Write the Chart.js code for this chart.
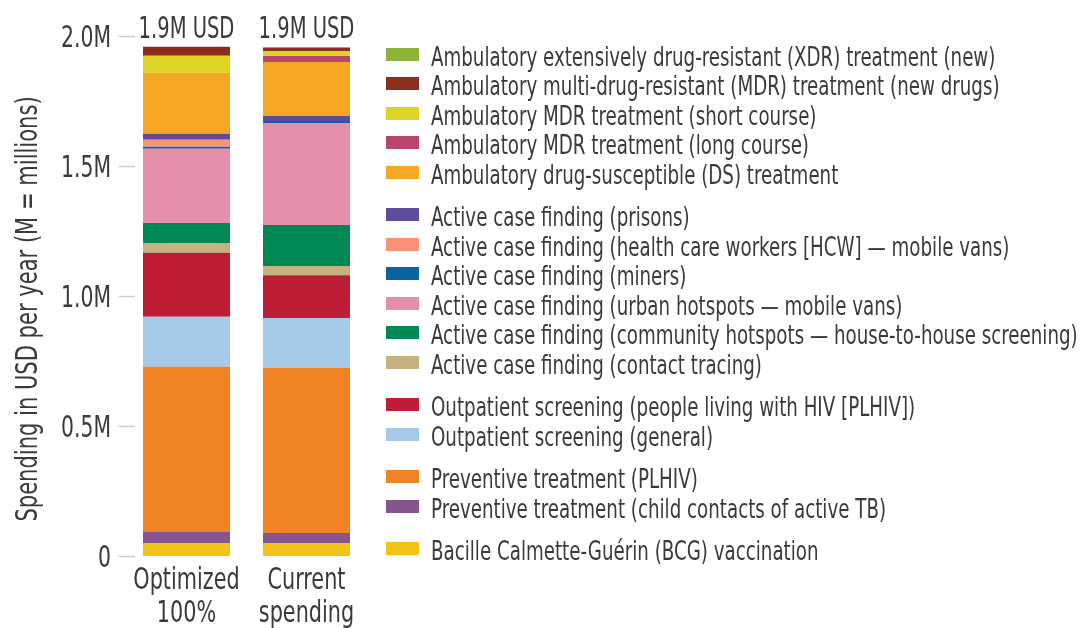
<!DOCTYPE html>
<html>
<head>
<meta charset="utf-8">
<script src="https://cdn.jsdelivr.net/npm/chart.js@4.4.1/dist/chart.umd.min.js"></script>
<style>
html,body{margin:0;padding:0;background:#fff;}
canvas{display:block;}
</style>
</head>
<body>
<canvas id="c" width="1083" height="628"></canvas>
<script>
// ---- data (values in millions of USD per year) ----
const categories = [["Optimized", "100%"], ["Current", "spending"]];
const totalLabels = ["1.9M USD", "1.9M USD"];
const yTicks = [0, 0.5, 1.0, 1.5, 2.0];
const yTickLabels = ["0", "0.5M", "1.0M", "1.5M", "2.0M"];
const yTitle = "Spending in USD per year (M = millions)";

// series listed bottom of stack -> top of stack
const seriesLabels = [
  "Bacille Calmette-Guérin (BCG) vaccination",
  "Preventive treatment (child contacts of active TB)",
  "Preventive treatment (PLHIV)",
  "Outpatient screening (general)",
  "Outpatient screening (people living with HIV [PLHIV])",
  "Active case finding (contact tracing)",
  "Active case finding (community hotspots — house-to-house screening)",
  "Active case finding (urban hotspots — mobile vans)",
  "Active case finding (miners)",
  "Active case finding (health care workers [HCW] — mobile vans)",
  "Active case finding (prisons)",
  "Ambulatory drug-susceptible (DS) treatment",
  "Ambulatory MDR treatment (long course)",
  "Ambulatory MDR treatment (short course)",
  "Ambulatory multi-drug-resistant (MDR) treatment (new drugs)",
  "Ambulatory extensively drug-resistant (XDR) treatment (new)"
];
const seriesColors = [
  "#f2c318", "#86558f", "#f08323", "#a5c9e9", "#be1e35", "#c4b27f",
  "#008855", "#e68fab", "#0a64a4", "#f8937a", "#5f4b9b", "#f5a623",
  "#b8456d", "#dcd523", "#8b2e1e", "#8cb43c"
];
const optimizedValues = [0.050, 0.042, 0.636, 0.192, 0.246, 0.038, 0.077, 0.285, 0.008, 0.027, 0.023, 0.235, 0.000, 0.065, 0.035, 0.000];
const currentValues   = [0.050, 0.038, 0.635, 0.192, 0.165, 0.035, 0.158, 0.392, 0.008, 0.000, 0.019, 0.208, 0.023, 0.019, 0.012, 0.004];

// legend group sizes (legend order = top of stack first)
const legendGroups = [5, 6, 2, 2, 1];

const FONT = '"DejaVu Sans Condensed", "Liberation Sans Narrow", sans-serif';
const TEXT = "#3a3a3a";

const datasets = seriesLabels.map((lab, i) => ({
  label: lab,
  data: [optimizedValues[i], currentValues[i]],
  backgroundColor: seriesColors[i],
  borderWidth: 0,
  barPercentage: 0.725,
  categoryPercentage: 1.0
}));

function txt(ctx, s, x, y, align, size, sx) {
  ctx.save();
  ctx.font = size + "px " + FONT;
  ctx.textAlign = align;
  ctx.textBaseline = "alphabetic";
  ctx.translate(x, y);
  ctx.scale(sx, 1);
  ctx.fillText(s, 0, 0);
  ctx.restore();
}

const decorPlugin = {
  id: "decor",
  afterDraw(chart) {
    const ctx = chart.ctx;
    const ys = chart.scales.y;
    const xs = chart.scales.x;
    const area = chart.chartArea;
    ctx.save();
    // y tick marks + labels
    ctx.strokeStyle = "#cccccc";
    ctx.lineWidth = 1.5;
    ctx.fillStyle = TEXT;
    yTicks.forEach((v, i) => {
      const py = ys.getPixelForValue(v);
      const y = Math.round(py) + 0.5;
      ctx.beginPath();
      ctx.moveTo(area.left - 8, y);
      ctx.lineTo(area.left + 8.5, y);
      ctx.stroke();
      txt(ctx, yTickLabels[i], 111, py + 11, "right", 31, 0.73);
    });
    // y title
    ctx.save();
    ctx.translate(37, 309);
    ctx.rotate(-Math.PI / 2);
    ctx.scale(0.78, 1);
    ctx.font = "30px " + FONT;
    ctx.textAlign = "center";
    ctx.textBaseline = "alphabetic";
    ctx.fillText(yTitle, 0, 0);
    ctx.restore();
    // x category labels
    categories.forEach((lines, i) => {
      const px = xs.getPixelForValue(i);
      lines.forEach((l, j) => txt(ctx, l, px, 589 + j * 33, "center", 30, 0.77));
    });
    // totals above bars
    totalLabels.forEach((t, i) => {
      txt(ctx, t, xs.getPixelForValue(i), 38, "center", 31, 0.70);
    });
    // legend
    const legendOrder = seriesLabels.map((_, i) => seriesLabels.length - 1 - i);
    let y = 65.5, k = 0;
    legendGroups.forEach(n => {
      for (let j = 0; j < n; j++, k++) {
        const idx = legendOrder[k];
        ctx.fillStyle = seriesColors[idx];
        ctx.fillRect(386, Math.round(y - 18), 33, 13);
        ctx.fillStyle = TEXT;
        txt(ctx, seriesLabels[idx], 431, y, "left", 26, 0.78);
        y += 29.5;
      }
      y += 13;
    });
    ctx.restore();
  }
};

new Chart(document.getElementById("c"), {
  type: "bar",
  data: { labels: categories, datasets },
  options: {
    responsive: false,
    animation: false,
    devicePixelRatio: 1,
    layout: { padding: { top: 36, right: 716.5, left: 0, bottom: 0 } },
    plugins: { legend: { display: false }, tooltip: { enabled: false } },
    scales: {
      x: {
        stacked: true,
        grid: { display: false, drawTicks: false },
        border: { display: false },
        ticks: { display: false },
        afterFit(s) { s.height = 72; }
      },
      y: {
        stacked: true,
        min: 0, max: 2,
        afterBuildTicks(s) { s.ticks = yTicks.map(v => ({ value: v })); },
        grid: { display: false, drawTicks: false },
        border: { display: false },
        ticks: { display: false },
        afterFit(s) { s.width = 126.5; }
      }
    }
  },
  plugins: [decorPlugin]
});
</script>
</body>
</html>
